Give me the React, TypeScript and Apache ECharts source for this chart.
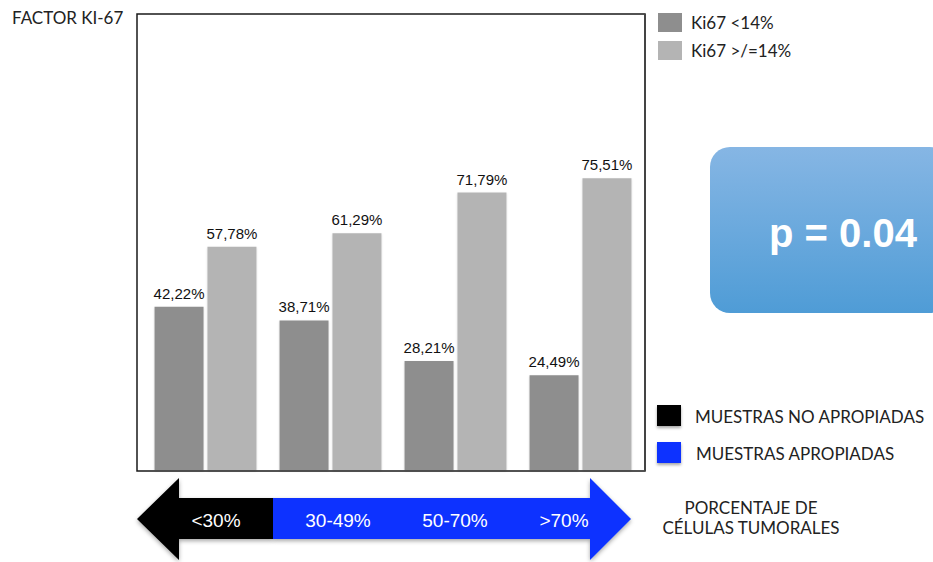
import React, { useEffect, useRef } from "react";
import * as echarts from "echarts";

const categories = ["<30%", "30-49%", "50-70%", ">70%"];
const seriesNames = ["Ki67 <14%", "Ki67 >/=14%"];
const lowKi67 = [42.22, 38.71, 28.21, 24.49];
const highKi67 = [57.78, 61.29, 71.79, 75.51];
const yMax = 118;
const arrowLabels = ["<30%", "30-49%", "50-70%", ">70%"];
const arrowLabelX = [216, 338, 455, 564];
const pValueText = "p = 0.04";

const AVENIR = "Lato, 'Noto Sans', sans-serif";
const ARIAL = "'Liberation Sans', Arial, sans-serif";

export default function App() {
  const ref = useRef<HTMLDivElement>(null);
  useEffect(() => {
    if (!ref.current) return;
    const chart = echarts.init(ref.current, undefined, { renderer: "svg" });
    const fmt = (p: any) => p.value.toFixed(2).replace(".", ",") + "%";
    const labelCfg = {
      show: true,
      position: "top" as const,
      distance: 6,
      formatter: fmt,
      color: "#111",
      fontSize: 15,
      fontFamily: ARIAL,
    };
    const arrowY = 519;
    chart.setOption({
      animation: false,
      backgroundColor: "#ffffff",
      title: {
        text: "FACTOR KI-67",
        left: 7,
        top: 4,
        textStyle: { fontSize: 17, fontWeight: "normal", color: "#222", fontFamily: AVENIR },
      },
      legend: {
        orient: "vertical",
        left: 653,
        top: 8,
        itemWidth: 24,
        itemHeight: 19,
        itemGap: 9,
        icon: "rect",
        data: seriesNames,
        textStyle: { fontSize: 17, lineHeight: 19, color: "#222", fontFamily: AVENIR, padding: [0, 0, 0, 4] },
      },
      grid: { left: 143, top: 14, width: 500, height: 456 },
      xAxis: {
        type: "category",
        data: categories,
        axisLine: { show: false },
        axisTick: { show: false },
        axisLabel: { show: false },
      },
      yAxis: { type: "value", min: 0, max: yMax, show: false, splitLine: { show: false } },
      series: [
        {
          name: seriesNames[0],
          type: "bar",
          data: lowKi67,
          barWidth: 49,
          barGap: "8%",
          itemStyle: { color: "#8e8e8e", shadowColor: "rgba(0,0,0,0.15)", shadowBlur: 2, shadowOffsetY: 1 },
          label: labelCfg,
        },
        {
          name: seriesNames[1],
          type: "bar",
          data: highKi67,
          barWidth: 49,
          itemStyle: { color: "#b4b4b4", shadowColor: "rgba(0,0,0,0.15)", shadowBlur: 2, shadowOffsetY: 1 },
          label: labelCfg,
        },
      ],
      graphic: [
        // plot frame
        {
          type: "rect",
          shape: { x: 137, y: 14, width: 508, height: 457 },
          style: { fill: "none", stroke: "#1a1a1a", lineWidth: 1.5 },
          z: 10,
        },
        {
          type: "line",
          shape: { x1: 137, y1: 471, x2: 645, y2: 471 },
          style: { stroke: "#3a3a3a", lineWidth: 2.5, shadowColor: "rgba(0,0,0,0.3)", shadowBlur: 3, shadowOffsetY: 2 },
          z: 11,
        },
        {
          type: "line",
          shape: { x1: 645, y1: 14, x2: 645, y2: 471 },
          style: { stroke: "#444", lineWidth: 2 },
          z: 11,
        },
        // p value box
        {
          type: "rect",
          shape: { x: 710, y: 147, width: 240, height: 166, r: 20 },
          style: {
            fill: new echarts.graphic.LinearGradient(0, 0, 0, 1, [
              { offset: 0, color: "#86b6e4" },
              { offset: 1, color: "#4f9cd6" },
            ]),
          },
        },
        {
          type: "text",
          x: 843,
          y: 233,
          style: {
            text: pValueText,
            fill: "#ffffff",
            fontSize: 40,
            fontWeight: "bold",
            fontFamily: ARIAL,
            align: "center",
            verticalAlign: "middle",
          },
        },
        // arrow: black part
        {
          type: "polygon",
          shape: {
            points: [
              [137, arrowY], [179, 478], [179, 498], [273, 498], [273, 539], [179, 539], [179, 560],
            ],
          },
          style: { fill: "#000000", shadowColor: "rgba(0,0,0,0.35)", shadowBlur: 4, shadowOffsetY: 2 },
        },
        {
          type: "polygon",
          shape: {
            points: [
              [273, 498], [590, 498], [590, 478], [631, arrowY], [590, 560], [590, 539], [273, 539],
            ],
          },
          style: { fill: "#0a32ff", shadowColor: "rgba(0,0,0,0.35)", shadowBlur: 4, shadowOffsetY: 2 },
        },
        ...arrowLabels.map((t, i) => ({
          type: "text",
          x: arrowLabelX[i],
          y: arrowY + 1,
          style: {
            text: t,
            fill: "#ffffff",
            fontSize: 19,
            fontFamily: ARIAL,
            align: "center",
            verticalAlign: "middle",
          },
          z: 5,
        })),
        // bottom legend
        {
          type: "rect",
          shape: { x: 657, y: 405, width: 24, height: 21 },
          style: { fill: "#000000", shadowColor: "rgba(0,0,0,0.35)", shadowBlur: 3, shadowOffsetY: 2 },
        },
        {
          type: "text",
          x: 695,
          y: 416,
          style: { text: "MUESTRAS NO APROPIADAS", fill: "#222", fontSize: 17, fontFamily: AVENIR, verticalAlign: "middle" },
        },
        {
          type: "rect",
          shape: { x: 657, y: 442, width: 24, height: 21 },
          style: { fill: "#0a32ff", shadowColor: "rgba(0,0,0,0.35)", shadowBlur: 3, shadowOffsetY: 2 },
        },
        {
          type: "text",
          x: 696,
          y: 453,
          style: { text: "MUESTRAS APROPIADAS", fill: "#222", fontSize: 17, fontFamily: AVENIR, verticalAlign: "middle" },
        },
        {
          type: "text",
          x: 751,
          y: 517,
          style: {
            text: "PORCENTAJE DE\nCÉLULAS TUMORALES",
            fill: "#222",
            fontSize: 17,
            lineHeight: 20,
            fontFamily: AVENIR,
            align: "center",
            verticalAlign: "middle",
          },
        },
      ],
    });
    return () => chart.dispose();
  }, []);
  return (
    <div
      ref={ref}
      style={{ position: "fixed", left: 0, top: 0, width: 933, height: 562 }}
    />
  );
}
